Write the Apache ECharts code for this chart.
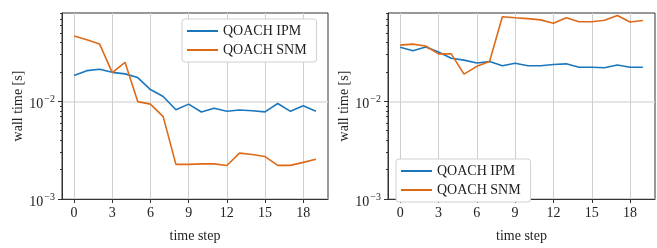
<!DOCTYPE html>
<html>
<head>
<meta charset="utf-8">
<script src="https://cdn.jsdelivr.net/npm/echarts@6/dist/echarts.min.js"></script>
<style>
  html, body { margin: 0; padding: 0; background: #fff; }
  #chart { width: 657px; height: 248px; }
</style>
</head>
<body>
<div id="chart"></div>
<script>
// data
var steps = [0, 1, 2, 3, 4, 5, 6, 7, 8, 9, 10, 11, 12, 13, 14, 15, 16, 17, 18, 19];
var leftIpm = [0.0184, 0.0206, 0.0213, 0.0198, 0.0191, 0.0175, 0.0132, 0.0112, 0.0082, 0.00936,
  0.00778, 0.0085, 0.0079, 0.00814, 0.0080, 0.0078, 0.0095, 0.0079, 0.0090, 0.0079];
var leftSnm = [0.0466, 0.0426, 0.0387, 0.0197, 0.0251, 0.00993, 0.00936, 0.00697, 0.00226, 0.00226,
  0.00229, 0.00229, 0.0022, 0.00295, 0.00286, 0.00272, 0.00221, 0.00221, 0.00237, 0.00255];
var rightIpm = [0.0357, 0.0330, 0.0360, 0.0320, 0.0276, 0.0264, 0.0247, 0.0255, 0.0231, 0.0245,
  0.0231, 0.0231, 0.0238, 0.0242, 0.0223, 0.0223, 0.0221, 0.0235, 0.0223, 0.0223];
var rightSnm = [0.0376, 0.0385, 0.0368, 0.0306, 0.0306, 0.0190, 0.0228, 0.0256, 0.0735, 0.0718,
  0.0703, 0.0682, 0.0629, 0.0718, 0.0653, 0.0653, 0.0677, 0.0757, 0.0649, 0.0672];
var xTicks = [0, 3, 6, 9, 12, 15, 18];
var yMajor = [0.001, 0.01];
var yMinor = [0.002, 0.003, 0.004, 0.005, 0.006, 0.007, 0.008, 0.009,
  0.02, 0.03, 0.04, 0.05, 0.06, 0.07, 0.08];
var names = ['QOACH IPM', 'QOACH SNM'];

var font = 'Liberation Serif';
var blue = '#1a77bd';
var orange = '#de6a17';

function pairs(vals) {
  return steps.map(function (s, i) { return [s, vals[i]]; });
}

function xAxisFor(idx) {
  return {
    type: 'value',
    gridIndex: idx,
    min: -0.95,
    max: 19.95,
    name: 'time step',
    nameLocation: 'middle',
    nameGap: 30,
    nameTextStyle: { fontFamily: font, fontSize: 14, color: '#222' },
    axisLine: { onZero: false, lineStyle: { color: '#333', width: 1 } },
    axisTick: { show: true, length: 4, customValues: xTicks, lineStyle: { color: '#333' } },
    axisLabel: { customValues: xTicks, margin: 7, fontFamily: font, fontSize: 14, color: '#222' },
    splitLine: { show: true, lineStyle: { color: '#cfcfcf', width: 1 } }
  };
}

function yAxisFor(idx) {
  return {
    type: 'log',
    logBase: 10,
    gridIndex: idx,
    position: 'left',
    min: 0.001,
    max: 0.0802,
    name: 'wall time [s]',
    nameLocation: 'middle',
    nameGap: 35,
    nameTextStyle: { fontFamily: font, fontSize: 14, color: '#222' },
    axisLine: { show: true, onZero: false, lineStyle: { color: '#333', width: 1 } },
    axisTick: { show: true, length: 4, customValues: yMajor, lineStyle: { color: '#333' } },
    axisLabel: {
      customValues: yMajor,
      margin: 7,
      formatter: function (v) {
        var e = Math.round(Math.log(v) / Math.LN10);
        return '{b|10}{s|\u2212' + (-e) + '}';
      },
      rich: {
        b: { fontFamily: font, fontSize: 14, color: '#222', padding: [6, 0, 0, 0] },
        s: { fontFamily: font, fontSize: 10, color: '#222', padding: [0, 0, 4, 1] }
      }
    },
    splitLine: { show: true, lineStyle: { color: '#dcdcdc', width: 1.5 } }
  };
}

// extra axis only for the small log ticks
function minorAxisFor(idx) {
  return {
    type: 'log',
    logBase: 10,
    gridIndex: idx,
    position: 'left',
    offset: 0,
    min: 0.001,
    max: 0.0802,
    axisLine: { show: false, onZero: false },
    axisTick: { show: true, length: 2, customValues: yMinor, lineStyle: { color: '#333' } },
    axisLabel: { show: false },
    splitLine: { show: false }
  };
}

function lineSeries(name, vals, color, gi) {
  return {
    name: name,
    type: 'line',
    xAxisIndex: gi,
    yAxisIndex: gi * 2,
    data: pairs(vals),
    symbol: 'none',
    color: color,
    lineStyle: { color: color, width: 1.6 },
    animation: false
  };
}

function legendAt(left, top) {
  return {
    orient: 'vertical',
    left: left,
    top: top,
    data: names,
    icon: 'rect',
    itemWidth: 31,
    itemHeight: 2,
    itemGap: 5,
    itemTextGap: 11,
    padding: [5, 10, 5, 5],
    backgroundColor: '#fff',
    borderColor: '#d0d0d0',
    borderWidth: 1,
    borderRadius: 3,
    textStyle: { fontFamily: font, fontSize: 14, color: '#222' }
  };
}

var myChart = echarts.init(document.getElementById('chart'), null, { renderer: 'canvas' });
var option = {
  animation: false,
  backgroundColor: '#fff',
  grid: [
    { left: 62, top: 13, width: 266, height: 198, show: true, borderColor: '#333', borderWidth: 1, backgroundColor: 'transparent' },
    { left: 388, top: 13, width: 267, height: 198, show: true, borderColor: '#333', borderWidth: 1, backgroundColor: 'transparent' }
  ],
  legend: [legendAt(182, 19), legendAt(396, 159)],
  xAxis: [xAxisFor(0), xAxisFor(1)],
  yAxis: [yAxisFor(0), minorAxisFor(0), yAxisFor(1), minorAxisFor(1)],
  series: [
    lineSeries(names[0], leftIpm, blue, 0),
    lineSeries(names[1], leftSnm, orange, 0),
    lineSeries(names[0], rightIpm, blue, 1),
    lineSeries(names[1], rightSnm, orange, 1)
  ]
};
myChart.setOption(option);
</script>
</body>
</html>
